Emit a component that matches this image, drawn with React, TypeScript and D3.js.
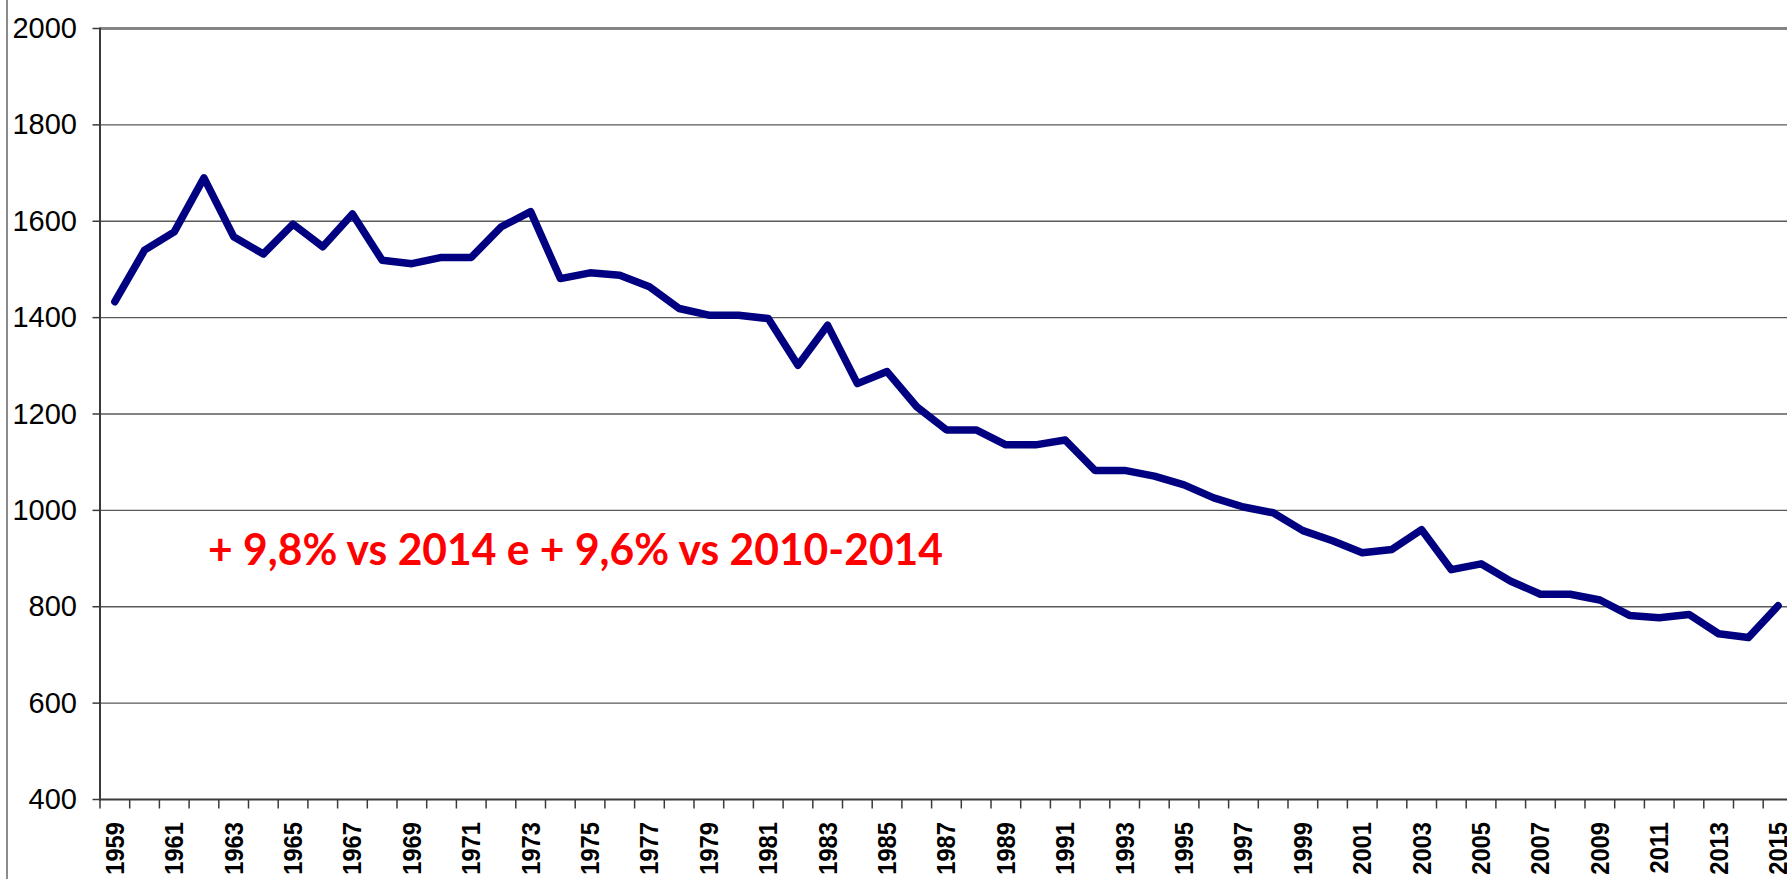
import React from "react";
import { scaleBand, scaleLinear, line, curveLinear } from "d3";

// categories (years) and values
const years = [
  1959, 1960, 1961, 1962, 1963, 1964, 1965, 1966, 1967, 1968, 1969, 1970,
  1971, 1972, 1973, 1974, 1975, 1976, 1977, 1978, 1979, 1980, 1981, 1982,
  1983, 1984, 1985, 1986, 1987, 1988, 1989, 1990, 1991, 1992, 1993, 1994,
  1995, 1996, 1997, 1998, 1999, 2000, 2001, 2002, 2003, 2004, 2005, 2006,
  2007, 2008, 2009, 2010, 2011, 2012, 2013, 2014, 2015
];
const values = [
  1433, 1540, 1578, 1690, 1568, 1532, 1594, 1547, 1615, 1519, 1512, 1525,
  1525, 1588, 1620, 1481, 1493, 1488, 1464, 1419, 1405, 1405, 1398, 1301,
  1384, 1263, 1288, 1215, 1167, 1167, 1136, 1136, 1146, 1083, 1083, 1071,
  1053, 1026, 1007, 995, 958, 937, 912, 919, 960, 877, 889, 853,
  826, 826, 814, 782, 777, 784, 744, 736, 802
];
const yTicks = [400, 600, 800, 1000, 1200, 1400, 1600, 1800, 2000];
const xLabels = [
  1959, 1961, 1963, 1965, 1967, 1969, 1971, 1973, 1975, 1977, 1979, 1981,
  1983, 1985, 1987, 1989, 1991, 1993, 1995, 1997, 1999, 2001, 2003, 2005,
  2007, 2009, 2011, 2013, 2015
];
const note = "+ 9,8% vs 2014 e + 9,6% vs 2010-2014";

const W = 1787;
const H = 879;
const left = 100;
const top = 28.5;
const bottom = 799.5;
const step = 29.7;

export default function App() {
  const x = scaleBand<number>()
    .domain(years)
    .range([left, left + years.length * step])
    .padding(0);
  const y = scaleLinear().domain([400, 2000]).range([bottom, top]);
  const cx = (yr: number) => (x(yr) as number) + x.bandwidth() / 2;

  const pts = years.map((yr, i) => ({ yr, v: values[i] }));
  const path = line<{ yr: number; v: number }>()
    .x(d => cx(d.yr))
    .y(d => y(d.v))
    .curve(curveLinear)(pts);

  const tickEdges = years.map(yr => x(yr) as number).concat([left + years.length * step]);

  return (
    <>
      <style>{`body{margin:0;overflow:hidden}`}</style>
      <svg width={W} height={H} style={{ display: "block", background: "#fff" }}>
        {/* outer chart border */}
        <line x1={7} x2={7} y1={0} y2={H} stroke="#8c8c8c" strokeWidth={2} />

        {/* gridlines */}
        {yTicks.slice(1, -1).map(t => (
          <line key={t} x1={left} x2={W} y1={y(t)} y2={y(t)} stroke="#5a5a5a" strokeWidth={1.4} />
        ))}
        <line x1={left} x2={W} y1={y(2000)} y2={y(2000)} stroke="#858585" strokeWidth={3} />

        {/* y axis */}
        <line x1={left} x2={left} y1={top - 1} y2={bottom + 1} stroke="#3a3a3a" strokeWidth={2} />
        {yTicks.map(t => (
          <g key={t}>
            <line x1={92.5} x2={left} y1={y(t)} y2={y(t)} stroke="#3a3a3a" strokeWidth={1.5} />
            <text
              x={77}
              y={y(t)}
              dy="0.33em"
              textAnchor="end"
              fontFamily="Liberation Sans, Arial, sans-serif"
              fontSize={29}
              fill="#000"
            >
              {t}
            </text>
          </g>
        ))}

        {/* x axis */}
        <line x1={left - 1} x2={W} y1={bottom} y2={bottom} stroke="#3a3a3a" strokeWidth={2} />
        {tickEdges.map((e, i) => (
          <line key={i} x1={e} x2={e} y1={bottom} y2={bottom + 9} stroke="#3a3a3a" strokeWidth={1.5} />
        ))}
        {xLabels.map(yr => (
          <text
            key={yr}
            transform={`translate(${cx(yr) + 9},822) rotate(-90) scale(0.95,1)`}
            textAnchor="end"
            fontFamily="Liberation Sans, Arial, sans-serif"
            fontWeight="bold"
            fontSize={25}
            fill="#000"
          >
            {yr}
          </text>
        ))}

        {/* data line */}
        <path d={path || ""} fill="none" stroke="#000080" strokeWidth={7.5} strokeLinejoin="round" strokeLinecap="round" />

        {/* annotation */}
        <text
          x={208}
          y={565}
          fontFamily="Lato, Open Sans, sans-serif"
          fontWeight="bold"
          fontSize={44}
          fill="#ff0000"
          textLength={735}
          lengthAdjust="spacingAndGlyphs"
        >
          {note}
        </text>
      </svg>
    </>
  );
}
